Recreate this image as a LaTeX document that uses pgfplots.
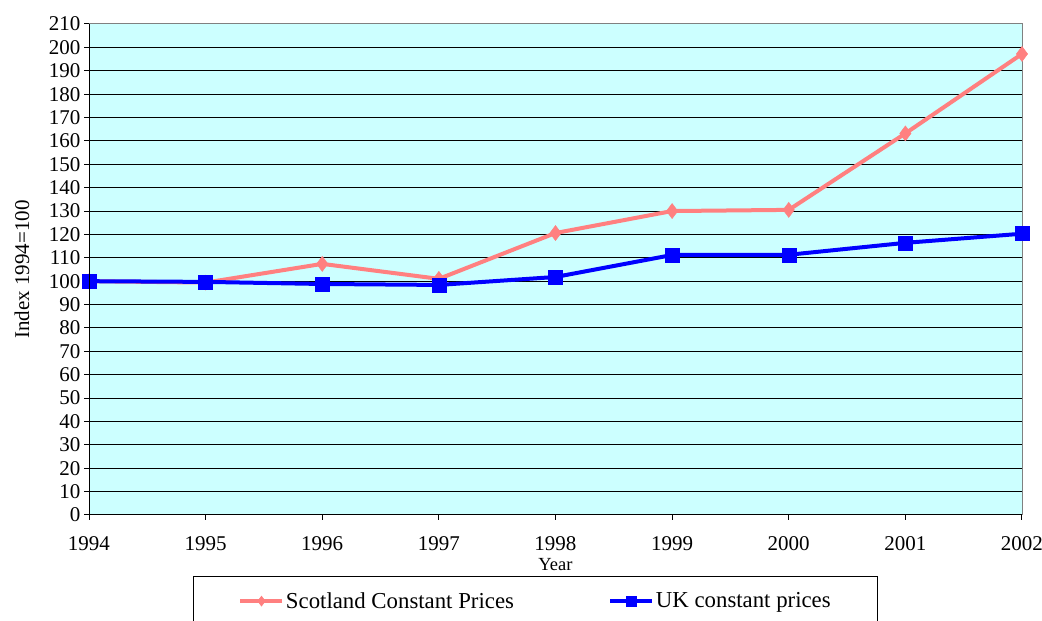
\documentclass[border=0pt]{standalone}
\usepackage{fontspec}
\setmainfont{Liberation Serif}
\usepackage{pgfplots}
\pgfplotsset{compat=1.18}
\definecolor{bg}{HTML}{CCFFFF}
\definecolor{scot}{HTML}{FF8080}
\definecolor{ukblue}{HTML}{0000FF}
\begin{document}
\begin{tikzpicture}[x=1pt,y=1pt]
\useasboundingbox (0,0) rectangle (1042,621);
\begin{axis}[
 at={(89pt,106pt)}, anchor=south west,
 width=933pt, height=491pt, scale only axis,
 xmin=1994, xmax=2002, ymin=0, ymax=210,
 xtick={1994,1995,...,2002}, ytick={0,10,...,210},
 xtick pos=lower, ytick pos=left,
 tick align=outside, major tick length=5pt,
 tick style={black, line width=1pt},
 axis background/.style={fill=bg},
 axis line style={draw=gray, line width=1pt},
 ymajorgrids, major grid style={black, line width=1pt},
 /pgf/number format/assume math mode=true,
 /pgf/number format/1000 sep={},
 ticklabel style={font=\fontsize{21}{25}\selectfont},
 xticklabel style={yshift=-13pt},
 xlabel={Year}, ylabel={Index 1994=100},
 xlabel style={at={(axis description cs:0.5,0)}, anchor=center, yshift=-50pt, font=\fontsize{18.5}{22}\selectfont},
 ylabel style={at={(axis description cs:0,0.5)}, anchor=center, yshift=67pt, font=\fontsize{21}{25}\selectfont},
 legend columns=2,
 legend style={at={(0.11147,-0.1242)}, anchor=north west, draw=black, line width=1pt,
   inner xsep=45pt, inner ysep=14pt, font=\fontsize{22.8}{27}\selectfont,
   nodes={inner xsep=1.5pt, inner ysep=2pt},
   /tikz/every even column/.append style={column sep=93pt}},
 legend image code/.code={%
   \draw[mark repeat=2,mark phase=2,#1, mark size=5pt] plot coordinates {(0pt,0pt) (21pt,0pt) (42pt,0pt)};},
 after end axis/.code={
   \draw[black, line width=1pt] (rel axis cs:0,1) -- (rel axis cs:0,0) -- (rel axis cs:1,0);
 },
]
\addplot[color=scot, line width=4pt, mark=diamond*, mark size=7.5pt, mark options={line width=0.5pt}]
 coordinates {(1994,100) (1995,99.4) (1996,107.4) (1997,101) (1998,120.6) (1999,130) (2000,130.5) (2001,163.2) (2002,197.2)};
\addlegendentry{Scotland Constant Prices}
\addplot[color=ukblue, line width=4pt, mark=square*, mark size=7pt, mark options={line width=0.5pt}]
 coordinates {(1994,100) (1995,99.7) (1996,98.8) (1997,98.4) (1998,101.8) (1999,111.2) (2000,111.3) (2001,116.4) (2002,120.3)};
\addlegendentry{UK constant prices}
\end{axis}
\end{tikzpicture}
\end{document}
